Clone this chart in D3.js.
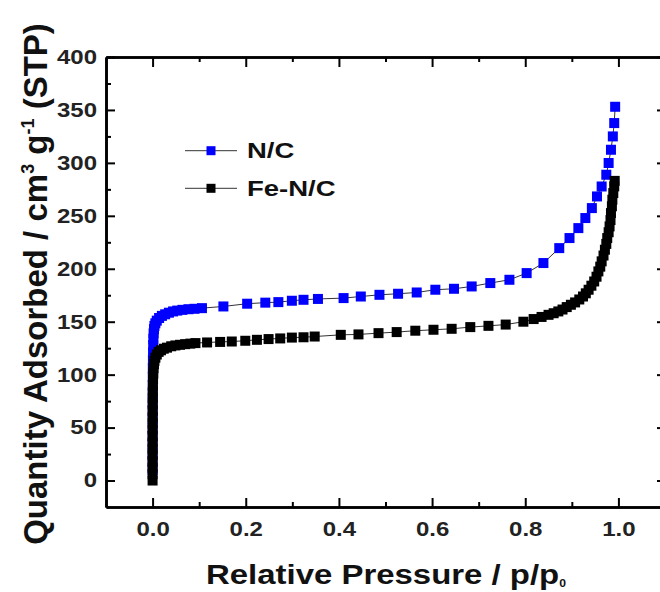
<!DOCTYPE html>
<html>
<head>
<style>
    body { margin: 0; background: white; }
    svg text { font-family: "Liberation Sans", Arial, Helvetica, sans-serif; font-weight: bold; }
</style>
<script src="https://cdn.jsdelivr.net/npm/d3@7"></script>
</head>
<body>
<svg id="chart"></svg>
<script>
// N/C isotherm (relative pressure, quantity adsorbed)
let ncP = [0.00001, 0.00002, 0.00003, 0.00005, 0.00007, 0.0001, 0.00013, 0.00017, 0.0002, 0.00025,
    0.0003, 0.0004, 0.0005, 0.0007, 0.001, 0.0013, 0.0017, 0.0022, 0.003, 0.004,
    0.006, 0.009, 0.014, 0.02, 0.027, 0.035, 0.044, 0.053, 0.064, 0.077,
    0.09, 0.106, 0.152, 0.203, 0.242, 0.270, 0.299, 0.324, 0.355, 0.410,
    0.447, 0.487, 0.527, 0.567, 0.607, 0.647, 0.685, 0.725, 0.766, 0.803,
    0.839, 0.873, 0.895, 0.914, 0.929, 0.943, 0.954, 0.964, 0.974, 0.979,
    0.984, 0.988, 0.991, 0.993];
let ncV = [10, 18, 26, 34, 42, 50, 58, 66, 74, 82,
    90, 98, 106, 114, 121, 128, 134, 139, 143, 146,
    148.5, 151, 153.5, 155.5, 157, 158.5, 159.7, 160.5, 161.2, 161.8,
    162.2, 162.8, 164.4, 167, 168, 168.5, 169.8, 170.7, 171.5, 172.3,
    173.8, 175.4, 176.4, 177.6, 180.2, 181.1, 183.3, 186.5, 189.6, 195.9,
    205.4, 219.5, 229, 238.4, 247.9, 257.3, 268.3, 277.7, 288.8, 299.9,
    312.4, 325, 337.6, 353];

// Fe-N/C isotherm
let fencP = [0.00001, 0.00002, 0.00003, 0.00004, 0.00005, 0.00007, 0.00009, 0.00011, 0.00013, 0.00016,
    0.0002, 0.00025, 0.0003, 0.0004, 0.0005, 0.0007, 0.001, 0.0015, 0.002, 0.003,
    0.004, 0.006, 0.009, 0.013, 0.018, 0.024, 0.031, 0.040, 0.049, 0.059,
    0.070, 0.081, 0.092, 0.117, 0.145, 0.170, 0.199, 0.224, 0.249, 0.274,
    0.299, 0.324, 0.348, 0.404, 0.442, 0.485, 0.524, 0.564, 0.603, 0.642,
    0.682, 0.721, 0.758, 0.796, 0.818, 0.835, 0.850, 0.861, 0.871, 0.880,
    0.889, 0.898, 0.907, 0.916, 0.924, 0.930, 0.936, 0.942, 0.948, 0.953,
    0.957, 0.961, 0.964, 0.968, 0.971, 0.974, 0.976, 0.979, 0.981, 0.983,
    0.984, 0.986, 0.987, 0.989, 0.991, 0.992];
let fencV = [0, 6, 12, 18, 24, 30, 36, 42, 48, 54,
    60, 66, 72, 78, 84, 90, 96, 101, 106, 110,
    113, 116, 119, 121.5, 123, 124.5, 125.5, 126.8, 127.6, 128.2,
    128.8, 129.3, 129.8, 130.4, 130.9, 131.3, 132, 132.9, 133.6, 134.2,
    135, 135.3, 136, 137.6, 138, 139.2, 140.2, 141.5, 142.4, 143.3,
    144.9, 146.1, 147.3, 150, 152.5, 154.5, 156.5, 158, 159.7, 161.5,
    163.8, 166, 168.2, 171, 173.8, 176.8, 180.2, 184, 188, 192.5,
    197.5, 202, 207, 212.5, 218, 223.5, 229, 234.5, 240, 246,
    252.6, 259, 265.2, 271.5, 277.8, 283];

let xTicks = [0, 0.2, 0.4, 0.6, 0.8, 1.0];
let xMinor = [0.1, 0.3, 0.5, 0.7, 0.9];
let yTicks = [0, 50, 100, 150, 200, 250, 300, 350, 400];
let yMinor = [25, 75, 125, 175, 225, 275, 325, 375];
let seriesNames = ["N/C", "Fe-N/C"];
let seriesColors = ["#0000ff", "#000000"];

function getConfig() {
    let width = 660, height = 592;
    let margin = {top: 57, left: 106, right: -5, bottom: 85};
    let container = d3.select("#chart").attr("width", width).attr("height", height);
    return {width, height, margin, container};
}

function getScales(config) {
    let {width, height, margin} = config;
    let xScale = d3.scaleLinear().domain([-0.1, 1.1]).range([margin.left, width - margin.right]);
    let yScale = d3.scaleLinear().domain([-25, 400]).range([height - margin.bottom, margin.top]);
    return {xScale, yScale};
}

function styleAxis(g) {
    g.select(".domain").attr("stroke", "#000").attr("stroke-width", 2.6);
    g.selectAll(".tick line").attr("stroke", "#000").attr("stroke-width", 2);
}

function drawAxes(config, scales) {
    let {container} = config;
    let {xScale, yScale} = scales;
    let [x0, x1] = xScale.range();
    let [y0, y1] = yScale.range();

    // minor ticks first
    container.append("g").attr("transform", `translate(0,${y0})`)
        .call(d3.axisBottom(xScale).tickValues(xMinor).tickSizeInner(-5).tickSizeOuter(0).tickFormat(""))
        .call(styleAxis);
    container.append("g").attr("transform", `translate(0,${y1})`)
        .call(d3.axisTop(xScale).tickValues(xMinor).tickSizeInner(-5).tickSizeOuter(0).tickFormat(""))
        .call(styleAxis);
    container.append("g").attr("transform", `translate(${x0},0)`)
        .call(d3.axisLeft(yScale).tickValues(yMinor).tickSizeInner(-5).tickSizeOuter(0).tickFormat(""))
        .call(styleAxis);
    container.append("g").attr("transform", `translate(${x1},0)`)
        .call(d3.axisRight(yScale).tickValues(yMinor).tickSizeInner(-5).tickSizeOuter(0).tickFormat(""))
        .call(styleAxis);

    // major ticks
    let bottom = container.append("g").attr("transform", `translate(0,${y0})`)
        .call(d3.axisBottom(xScale).tickValues(xTicks).tickSizeInner(-9).tickSizeOuter(0)
            .tickPadding(15).tickFormat(d3.format(".1f")))
        .call(styleAxis);
    container.append("g").attr("transform", `translate(0,${y1})`)
        .call(d3.axisTop(xScale).tickValues(xTicks).tickSizeInner(-10).tickSizeOuter(0).tickFormat(""))
        .call(styleAxis);
    let left = container.append("g").attr("transform", `translate(${x0},0)`)
        .call(d3.axisLeft(yScale).tickValues(yTicks).tickSizeInner(-9).tickSizeOuter(0)
            .tickPadding(7.5).tickFormat(d3.format("d")))
        .call(styleAxis);
    container.append("g").attr("transform", `translate(${x1},0)`)
        .call(d3.axisRight(yScale).tickValues(yTicks).tickSizeInner(-8).tickSizeOuter(0).tickFormat(""))
        .call(styleAxis);

    [bottom, left].forEach(g => g.selectAll("text")
        .attr("fill", "#222")
        .style("font-size", "20px")
        .attr("transform", "scale(1.2,1)"));
}

function drawTitles(config) {
    let {container} = config;
    let xt = container.append("text")
        .attr("transform", "translate(386,584) scale(1.22,1)")
        .attr("text-anchor", "middle")
        .attr("fill", "#111")
        .style("font-size", "27px");
    xt.append("tspan").text("Relative Pressure / p/p");
    xt.append("tspan").text("0").style("font-size", "10px").attr("dy", 3);

    let yt = container.append("text")
        .attr("transform", "translate(47,284) rotate(-90)")
        .attr("text-anchor", "middle")
        .attr("fill", "#111")
        .style("font-size", "33px");
    yt.append("tspan").text("Quantity Adsorbed / cm");
    yt.append("tspan").text("3").style("font-size", "18px").attr("dy", -13);
    yt.append("tspan").text(" g").attr("dy", 13);
    yt.append("tspan").text("-1").style("font-size", "18px").attr("dy", -13);
    yt.append("tspan").text(" (STP)").attr("dy", 13);
}

function drawSeries(config, scales, ps, vs, color) {
    let {container} = config;
    let {xScale, yScale} = scales;
    let data = ps.map((p, i) => ({p: p, v: vs[i]}));
    let line = d3.line().x(d => xScale(d.p)).y(d => yScale(d.v));
    let g = container.append("g");
    g.append("path").datum(data)
        .attr("d", line)
        .attr("fill", "none")
        .attr("stroke", "#333")
        .attr("stroke-width", 1);
    let s = 10;
    g.selectAll("rect").data(data).enter().append("rect")
        .attr("x", d => xScale(d.p) - s / 2)
        .attr("y", d => yScale(d.v) - s / 2)
        .attr("width", s)
        .attr("height", s)
        .attr("fill", color);
}

function drawLegend(config) {
    let {container} = config;
    let rows = [150.7, 188.3];
    seriesNames.forEach((name, i) => {
        let y = rows[i];
        container.append("line")
            .attr("x1", 185).attr("x2", 237).attr("y1", y).attr("y2", y)
            .attr("stroke", "#333").attr("stroke-width", 1);
        container.append("rect")
            .attr("x", 206.5).attr("y", y - 4.5).attr("width", 9).attr("height", 9)
            .attr("fill", seriesColors[i]);
        container.append("text")
            .attr("transform", `translate(247,${y + 7.5}) scale(1.25,1)`)
            .attr("fill", "#111")
            .style("font-size", "22px")
            .text(name);
    });
}

function showChart() {
    let config = getConfig();
    let scales = getScales(config);
    drawAxes(config, scales);
    drawSeries(config, scales, ncP, ncV, seriesColors[0]);
    drawSeries(config, scales, fencP, fencV, seriesColors[1]);
    drawLegend(config);
    drawTitles(config);
}

showChart();
</script>
</body>
</html>
